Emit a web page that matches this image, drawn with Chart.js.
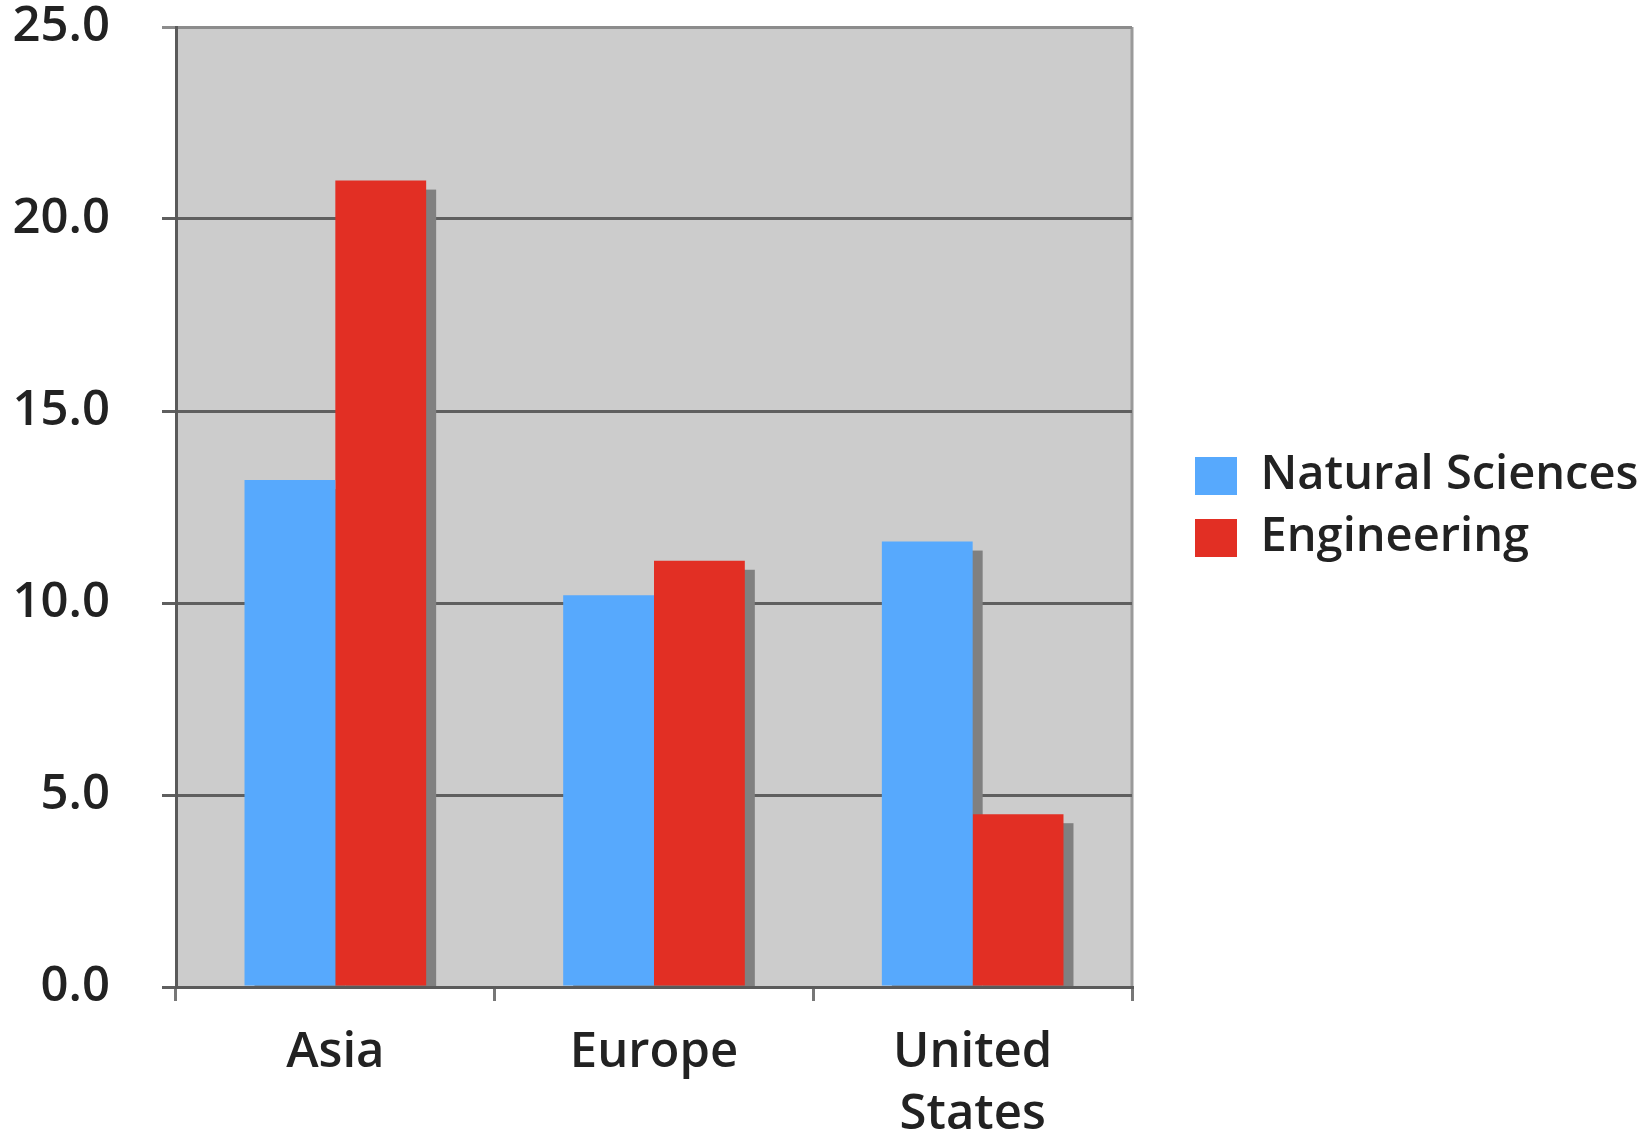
<!DOCTYPE html>
<html>
<head>
<meta charset="utf-8">
<script src="https://cdn.jsdelivr.net/npm/chart.js@4"></script>
<style>
	body { margin: 0; background: #ffffff; }
	#wrap { width: 1644px; height: 1137px; position: relative; }
</style>
</head>
<body>
<div id="wrap"><canvas id="myChart"></canvas></div>
<script>
// Valeurs
var regions = ['Asia', 'Europe', ['United', 'States']];
var natural_sciences = [13.2, 10.2, 11.6];
var engineering = [21.0, 11.1, 4.5];
var noms_series = ['Natural Sciences', 'Engineering'];

var police = { family: 'Open Sans', size: 49, weight: '600' };

// fond gris, bord droit et ombres des barres
var fond_et_ombres = {
	id: 'fond_et_ombres',
	beforeDraw: function(chart) {
		var ctx = chart.ctx;
		var a = chart.chartArea;
		ctx.save();
		ctx.fillStyle = '#cccccc';
		ctx.fillRect(a.left, a.top, a.right - a.left, a.bottom - a.top);
		ctx.strokeStyle = '#9a9a9a';
		ctx.lineWidth = 3;
		ctx.beginPath();
		ctx.moveTo(a.right, a.top);
		ctx.lineTo(a.right, a.bottom);
		ctx.stroke();
		ctx.restore();
	},
	beforeDatasetsDraw: function(chart) {
		var ctx = chart.ctx;
		var a = chart.chartArea;
		ctx.save();
		ctx.beginPath();
		ctx.rect(a.left, a.top, a.right - a.left, a.bottom - a.top - 1);
		ctx.clip();
		ctx.fillStyle = '#808080';
		chart.data.datasets.forEach(function(ds, i) {
			chart.getDatasetMeta(i).data.forEach(function(bar) {
				var p = bar.getProps(['x', 'y', 'width', 'base'], true);
				ctx.fillRect(p.x - p.width / 2 + 10, p.y + 9, p.width, p.base - p.y);
			});
		});
		ctx.restore();
	}
};

var canvas = document.getElementById('myChart');
var ctx = canvas.getContext('2d');

var barChart = new Chart(ctx, {
	type: 'bar',
	data: {
		labels: regions,
		datasets: [
		{
			label: noms_series[0],
			data: natural_sciences,
			backgroundColor: '#57a9fd',
			borderWidth: 0
		},
		{
			label: noms_series[1],
			data: engineering,
			backgroundColor: '#e22f24',
			borderWidth: 0
		}]
	},
	options: {
		responsive: true,
		maintainAspectRatio: false,
		animation: false,
		datasets: {
			bar: {
				categoryPercentage: 0.57,
				barPercentage: 1.0
			}
		},
		layout: {
			padding: { left: 13, top: 5, right: 0, bottom: 0 }
		},
		scales: {
			x: {
				grid: {
					offset: true,
					drawOnChartArea: false,
					drawTicks: true,
					tickLength: 14,
					color: '#777777',
					lineWidth: 3
				},
				border: {
					color: '#5a5a5a',
					width: 3
				},
				ticks: {
					font: { family: 'Open Sans', size: 49, weight: '600', lineHeight: 1.27 },
					color: '#222222',
					padding: 21
				},
				afterFit: function(scale) {
					scale.height = 150;
				}
			},
			y: {
				min: 0,
				max: 25,
				grid: {
					color: function(context) {
						return context.tick.value == 25 ? '#8c8c8c' : '#5f5f5f';
					},
					lineWidth: 3,
					tickLength: 14
				},
				border: {
					color: '#5a5a5a',
					width: 3
				},
				ticks: {
					stepSize: 5,
					font: police,
					color: '#222222',
					padding: 52,
					callback: function(value) {
						return value.toFixed(1);
					}
				},
				afterFit: function(scale) {
					scale.width = 163;
					scale.paddingTop = 27;
				}
			},
			// axe vide : espace entre le graphique et la legende
			marge: {
				position: 'right',
				display: true,
				grid: { display: false },
				border: { display: false },
				ticks: { display: false },
				afterFit: function(scale) {
					scale.width = 48;
				}
			}
		},
		plugins: {
			legend: {
				position: 'right',
				fullSize: false,
				maxWidth: 464,
				labels: {
					font: { family: 'Open Sans', size: 47, weight: '600', lineHeight: 1.1 },
					color: '#222222',
					boxWidth: 42,
					boxHeight: 38,
					padding: 15
				}
			},
			tooltip: { enabled: false }
		}
	},
	plugins: [fond_et_ombres]
});
</script>
</body>
</html>
